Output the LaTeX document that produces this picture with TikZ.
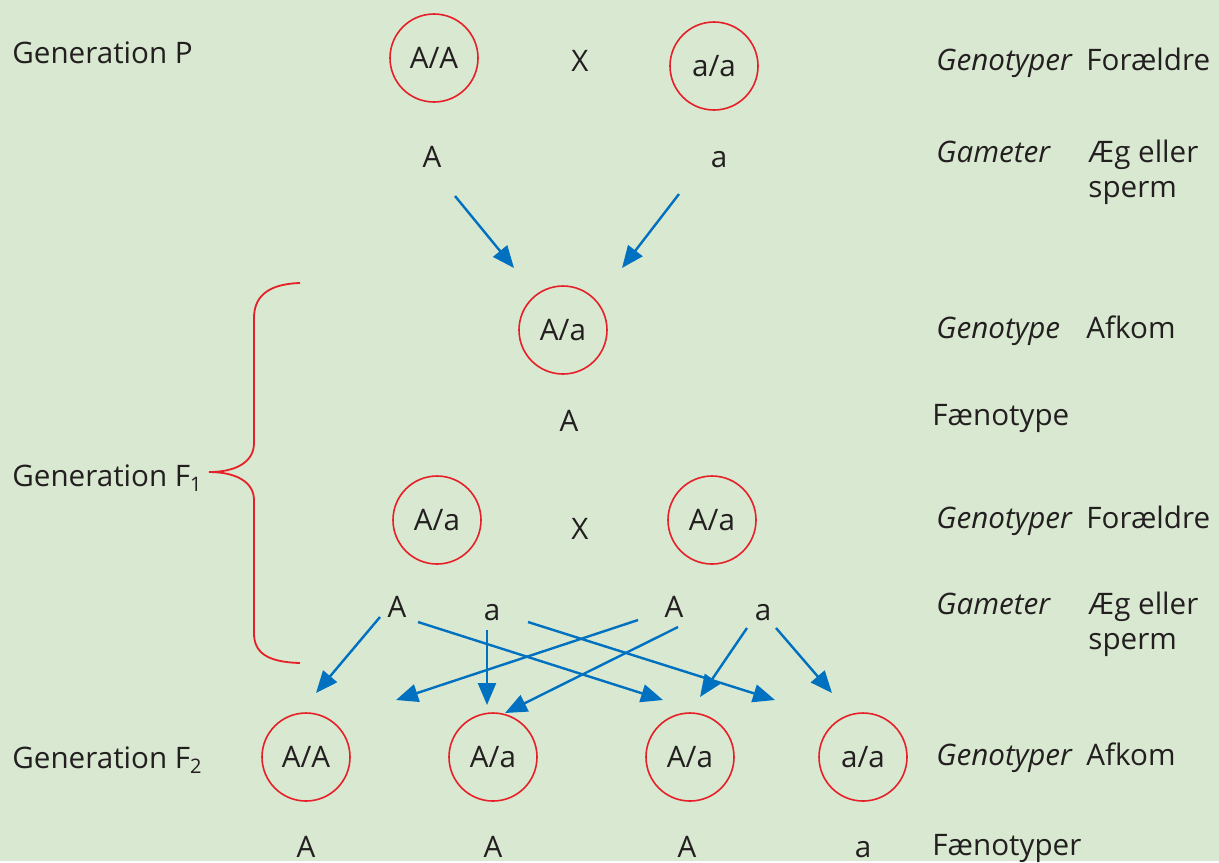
\documentclass[tikz,border=0pt]{standalone}
\usepackage{fontspec}
\setmainfont{Open Sans}
\usetikzlibrary{arrows.meta}
\definecolor{bg}{RGB}{217,232,208}
\definecolor{ink}{RGB}{35,31,32}
\definecolor{ring}{RGB}{230,32,40}
\definecolor{arrowblue}{RGB}{0,112,192}
\begin{document}
\begin{tikzpicture}[x=0.5pt,y=-0.5pt,
  every node/.style={text=ink, font=\fontsize{14.8}{18}\selectfont, inner sep=0pt},
  geno/.style={circle, draw=ring, line width=0.8pt, minimum size=44pt},
  lbl/.style={anchor=base west},
  ltr/.style={anchor=base},
  arr/.style={draw=arrowblue, line width=1.2pt, -{Triangle[length=11pt,width=9pt]}},
  brace/.style={draw=ring, line width=0.9pt}
]
\fill[bg] (0,0) rectangle (1219,861);

% generation labels
\node[lbl] (genP)  at (12,63)  {Generation P};
\node[lbl] (genF1) at (12,486) {Generation F\raisebox{-0.35ex}{\fontsize{10}{12}\selectfont 1}};
\node[lbl] (genF2) at (12,768) {Generation F\raisebox{-0.35ex}{\fontsize{10}{12}\selectfont 2}};

% P generation
\node[geno] (pAA) at (434,58) {A/A};
\node[ltr]  (px)  at (580,71) {X};
\node[geno] (paa) at (714,66) {a/a};
\node[ltr]  (gPA) at (432,167) {A};
\node[ltr]  (gPa) at (719,167) {a};

% F1 generation
\node[geno] (f1)  at (563,330) {A/a};
\node[ltr]  (f1ph) at (569,431) {A};
\node[geno] (f1l) at (437,520) {A/a};
\node[ltr]  (f1x) at (580,539) {X};
\node[geno] (f1r) at (712,520) {A/a};
\node[ltr]  (g1) at (397,617) {A};
\node[ltr]  (g2) at (492,620) {a};
\node[ltr]  (g3) at (674,617) {A};
\node[ltr]  (g4) at (763,620) {a};

% F2 generation
\node[geno] (c1) at (306,757) {A/A};
\node[geno] (c2) at (493,757) {A/a};
\node[geno] (c3) at (690,757) {A/a};
\node[geno] (c4) at (863,757) {a/a};
\node[ltr] (ph1) at (306,857) {A};
\node[ltr] (ph2) at (493,857) {A};
\node[ltr] (ph3) at (687,857) {A};
\node[ltr] (ph4) at (863,857) {a};

% right-hand legend
\node[lbl] (r1a) at (936,70)  {\itshape Genotyper};
\node[lbl] (r1b) at (1086,70) {Forældre};
\node[lbl] (r2a) at (936,162) {\itshape Gameter};
\node[lbl] (r2b) at (1088,162) {Æg eller};
\node[lbl] (r2c) at (1088,197) {sperm};
\node[lbl] (r3a) at (936,338) {\itshape Genotype};
\node[lbl] (r3b) at (1086,338) {Afkom};
\node[lbl] (r4a) at (932,425) {Fænotype};
\node[lbl] (r5a) at (936,528) {\itshape Genotyper};
\node[lbl] (r5b) at (1086,528) {Forældre};
\node[lbl] (r6a) at (936,614) {\itshape Gameter};
\node[lbl] (r6b) at (1088,614) {Æg eller};
\node[lbl] (r6c) at (1088,649) {sperm};
\node[lbl] (r7a) at (936,765) {\itshape Genotyper};
\node[lbl] (r7b) at (1086,765) {Afkom};
\node[lbl] (r8a) at (932,855) {Fænotyper};

% arrow ends
\coordinate (sP1) at (455,196);  \coordinate (tP1) at (514,268);
\coordinate (sP2) at (679,194);  \coordinate (tP2) at (622,268);
\coordinate (s1) at (380,617);   \coordinate (t1) at (316,693);
\coordinate (s2) at (418,622);   \coordinate (t2) at (663,700);
\coordinate (s3) at (487,630);   \coordinate (t3) at (487,705);
\coordinate (s4) at (528,622);   \coordinate (t4) at (775,700);
\coordinate (s5) at (638,620);   \coordinate (t5) at (396,700);
\coordinate (s6) at (678,627);   \coordinate (t6) at (505,713);
\coordinate (s7) at (747,628);   \coordinate (t7) at (700,697);
\coordinate (s8) at (776,628);   \coordinate (t8) at (832,693);

\draw[arr] (sP1) -- (tP1);
\draw[arr] (sP2) -- (tP2);
\draw[arr] (s1) -- (t1);
\draw[arr] (s2) -- (t2);
\draw[arr] (s3) -- (t3);
\draw[arr] (s4) -- (t4);
\draw[arr] (s5) -- (t5);
\draw[arr] (s6) -- (t6);
\draw[arr] (s7) -- (t7);
\draw[arr] (s8) -- (t8);

% brace grouping the F1 rows
\draw[brace] (300,283) .. controls (266,284) and (254,298) .. (254,318)
  -- (254,443) .. controls (254,462) and (236,472) .. (209,472)
  .. controls (236,472) and (254,482) .. (254,500)
  -- (254,633) .. controls (254,652) and (266,662) .. (300,663);
\end{tikzpicture}
\end{document}
